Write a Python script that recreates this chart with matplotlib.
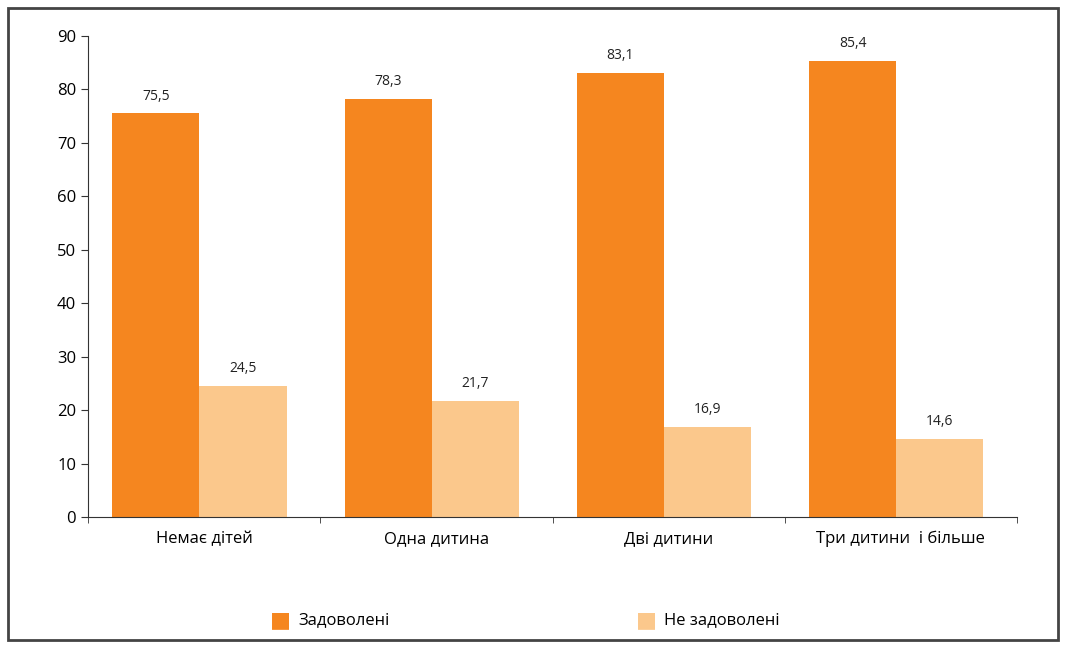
import numpy as np
import matplotlib.pyplot as plt
from matplotlib.patches import Rectangle

plt.rcParams['font.family'] = ['Open Sans', 'DejaVu Sans']

categories = ['Немає дітей', 'Одна дитина', 'Дві дитини', 'Три дитини  і більше']
satisfied = [75.5, 78.3, 83.1, 85.4]
not_satisfied = [24.5, 21.7, 16.9, 14.6]
series_names = ['Задоволені', 'Не задоволені']

orange = '#F5861F'
light = '#FBC88C'

fig = plt.figure(figsize=(10.66, 6.47), dpi=100)
ax = fig.add_axes([88 / 1066, (647 - 517) / 647, (1017 - 88) / 1066, (517 - 36) / 647])

x = np.arange(len(categories))
w = 0.375
b1 = ax.bar(x - w / 2 - 0.02, satisfied, w, color=orange, label=series_names[0])
b2 = ax.bar(x + w / 2 - 0.02, not_satisfied, w, color=light, label=series_names[1])

# value labels with decimal comma
for bars in (b1, b2):
    for rect in bars:
        h = rect.get_height()
        ax.annotate(f'{h:.1f}'.replace('.', ','), (rect.get_x() + rect.get_width() / 2, h),
                    xytext=(0, 7), textcoords='offset points', ha='center', va='bottom',
                    fontsize=10, color='#222222')

ax.set_xlim(-0.5, len(categories) - 0.5)
ax.set_ylim(0, 90)
ax.set_yticks(range(0, 91, 10))
ax.set_xticks(x)
ax.set_xticklabels(categories, fontsize=12)
ax.set_xticks(np.arange(-0.5, len(categories)), minor=True)
ax.tick_params(axis='x', which='major', length=0, pad=10)
ax.tick_params(axis='x', which='minor', length=4, color='#333333')
ax.tick_params(axis='y', labelsize=12, length=5, color='#333333')
for s in ['top', 'right']:
    ax.spines[s].set_visible(False)
for s in ['left', 'bottom']:
    ax.spines[s].set_color('#333333')

# legend at bottom
fig.text(280 / 1066, 1 - 620 / 647, '■', color=orange, fontsize=16, ha='center', va='center',
         family='DejaVu Sans')
fig.text(298 / 1066, 1 - 620 / 647, series_names[0], fontsize=12, va='center')
fig.text(646 / 1066, 1 - 620 / 647, '■', color=light, fontsize=16, ha='center', va='center',
         family='DejaVu Sans')
fig.text(664 / 1066, 1 - 620 / 647, series_names[1], fontsize=12, va='center')

# outer frame
fig.patches.append(Rectangle((8 / 1066, 7 / 647), 1050 / 1066, 632 / 647, transform=fig.transFigure,
                             fill=False, edgecolor='#444444', linewidth=2))

fig.savefig('out.png', dpi=100)
